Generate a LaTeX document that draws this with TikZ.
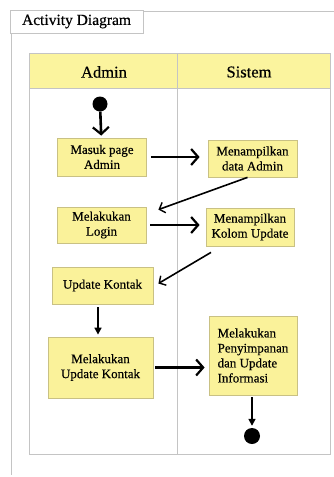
\documentclass[tikz,border=0pt]{standalone}
\usepackage{fontspec}
\setmainfont{Liberation Serif}[FakeBold=0.4]
\usetikzlibrary{arrows.meta, positioning}

\definecolor{laneyellow}{HTML}{FBF49E}
\definecolor{boxyellow}{HTML}{FAF29A}
\definecolor{boxedge}{HTML}{C9C184}
\definecolor{frameline}{HTML}{C4C4C4}

\begin{document}
\begin{tikzpicture}[x=1pt,y=-1pt,
        act/.style={draw=boxedge, fill=boxyellow, line width=0.8pt, align=center,
            font=\fontsize{13}{15}\selectfont, inner sep=2pt},
        flow/.style={-{Straight Barb[length=7pt,width=16pt,line width=2.2pt]}, line width=2.6pt},
        back/.style={-{Straight Barb[length=5pt,width=11pt,line width=1.4pt]}, line width=1.6pt},
        down/.style={-{Triangle[length=7pt,width=7pt]}, line width=1.6pt},
        dot/.style={circle, fill=black, inner sep=0pt}]
    \useasboundingbox (0,0) rectangle (334,477);

    % frame and title
    \draw[frameline, line width=0.8pt] (334,11) -- (11,11) -- (11,475);
    \node[draw=frameline, line width=0.8pt, fill=white, minimum width=133pt, minimum height=23pt,
        font=\fontsize{15.5}{17}\selectfont] (title) at (76.5,21.5) {Activity Diagram};

    % swimlanes
    \fill[laneyellow] (29,53) rectangle (330,88);
    \draw[frameline, line width=1pt] (29,53) rectangle (330,454);
    \draw[frameline, line width=0.8pt] (29,88) -- (330,88);
    \draw[frameline, line width=0.8pt] (177,53) -- (177,454);
    \node[font=\fontsize{16.5}{18}\selectfont] (lane_admin)  at (104,72) {Admin};
    \node[font=\fontsize{16.5}{18}\selectfont] (lane_sistem) at (249,72) {Sistem};

    % activities
    \node[dot, minimum size=15pt] (start) at (100,104) {};
    \node[act, minimum width=89pt, minimum height=38pt] (masuk)       at (102,157)   {Masuk page\\Admin};
    \node[act, minimum width=89pt, minimum height=37pt] (tampilData)  at (252.5,158.5) {Menampilkan\\data Admin};
    \node[act, minimum width=89pt, minimum height=36pt] (login)       at (101.5,225) {Melakukan\\Login};
    \node[act, minimum width=88pt, minimum height=38pt] (tampilKolom) at (250,227)   {Menampilkan\\Kolom Update};
    \node[act, minimum width=101pt, minimum height=37pt] (updKontak)  at (102.5,285.5) {Update Kontak};
    \node[act, minimum width=105pt, minimum height=61pt] (lakukanUpd) at (100.5,367.5) {Melakukan\\Update Kontak};
    \node[act, minimum width=88pt, minimum height=79pt, align=left] (simpan) at (253,355.5)
        {Melakukan\\Penyimpanan\\dan Update\\Informasi};
    \node[dot, minimum size=16pt] (finish) at (252,436) {};

    % transitions
    \draw[flow, shorten >=2pt] (start) -- (masuk);
    \draw[flow, shorten <=4pt, shorten >=8pt] (masuk) -- (masuk -| tampilData.west);
    \draw[back] ([xshift=-5pt]tampilData.south) -- ([xshift=12pt,yshift=-3pt]login.north east);
    \draw[flow, shorten <=4pt, shorten >=6pt] (login) -- (login -| tampilKolom.west);
    \draw[back] ([xshift=-39pt,yshift=-6pt]tampilKolom.south) -- ([xshift=5pt,yshift=2pt]updKontak.east);
    \draw[down, shorten <=3pt, shorten >=2pt] (updKontak.south -| 98,0) -- (lakukanUpd.north -| 98,0);
    \draw[flow, shorten <=2pt, shorten >=4pt] (lakukanUpd) -- (lakukanUpd -| simpan.west);
    \draw[down, shorten <=2pt, shorten >=2pt] (simpan.south -| finish) -- (finish);
\end{tikzpicture}
\end{document}
